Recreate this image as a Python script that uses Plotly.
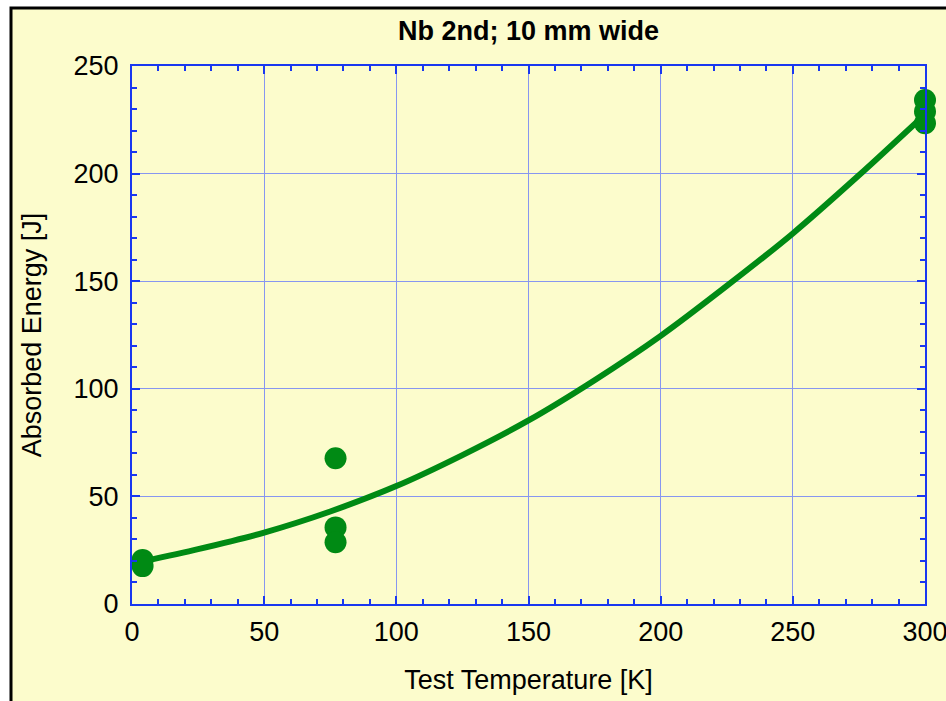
import plotly.graph_objects as go

# Measured data points
temp_pts = [4, 4, 77, 77, 77, 300, 300, 300]
energy_pts = [20.5, 17.6, 67.7, 35.6, 28.7, 234.2, 228.8, 223.4]

# Fitted curve
curve_temp = [4, 25, 50, 75, 100, 125, 150, 175, 200, 225, 250, 275, 300]
curve_energy = [19.8, 25.5, 33.2, 43.0, 54.8, 69.2, 85.3, 104.0, 124.6, 147.8, 172.2, 199.2, 227.5]

title_text = "Nb 2nd; 10 mm wide"
x_title = "Test Temperature [K]"
y_title = "Absorbed Energy [J]"

green = "rgb(0,138,20)"
axis_blue = "rgb(25,55,240)"
grid_blue = "rgb(135,150,240)"
font_family = "Liberation Sans, Arial, sans-serif"
fs = 27

fig = go.Figure()
fig.add_trace(go.Scatter(x=curve_temp, y=curve_energy, mode="lines",
                         line=dict(color=green, width=6, shape="spline", smoothing=0.8),
                         cliponaxis=False, hoverinfo="skip", showlegend=False))
fig.add_trace(go.Scatter(x=temp_pts, y=energy_pts, mode="markers",
                         marker=dict(color=green, size=22, line=dict(width=0)),
                         cliponaxis=False, showlegend=False))

axis_common = dict(
    showline=True, linecolor=axis_blue, linewidth=2, mirror="allticks",
    showgrid=True, gridcolor=grid_blue, gridwidth=1,
    ticks="inside", ticklen=8, tickcolor=axis_blue, tickwidth=1.5,
    minor=dict(ticks="inside", ticklen=5, tickcolor=axis_blue, tickwidth=1.5, showgrid=False),
    zeroline=False, automargin=False, ticklabeloverflow="allow",
    tickfont=dict(family=font_family, size=fs, color="black"),
)

fig.update_xaxes(range=[0, 300], dtick=50, minor_dtick=10, **axis_common,
                 title=dict(text=x_title, font=dict(family=font_family, size=fs, color="black"), standoff=24),
                 ticklabelstandoff=3)
fig.update_yaxes(range=[0, 250], dtick=50, minor_dtick=10, **axis_common,
                 title=dict(text=y_title, font=dict(family=font_family, size=fs, color="black"), standoff=24),
                 ticklabelstandoff=6)

# outer frame (light yellow panel with black border)
fig.add_shape(type="rect", xref="paper", yref="paper",
              x0=(11 - 132) / 793, x1=1.2, y0=-0.4, y1=(604 - 8) / 538,
              line=dict(color="black", width=3), fillcolor="rgb(252,252,204)", layer="below")

fig.update_layout(
    width=946, height=701,
    margin=dict(l=132, r=21, t=66, b=97, autoexpand=False),
    paper_bgcolor="white", plot_bgcolor="rgba(0,0,0,0)",
    title=dict(text="<b>" + title_text + "</b>", x=528.5 / 946, xanchor="center",
               y=1 - 31 / 701, yanchor="middle",
               font=dict(family=font_family, size=fs, color="black")),
    font=dict(family=font_family),
)

fig.write_html("out.html")
